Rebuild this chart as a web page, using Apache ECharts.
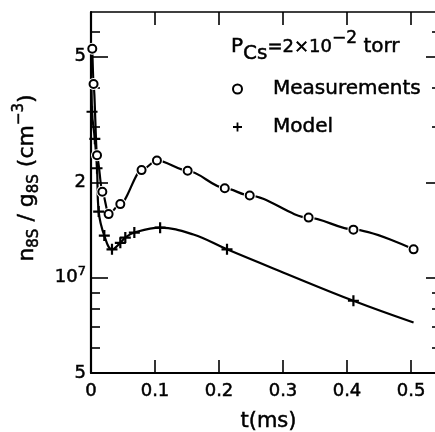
<!DOCTYPE html>
<html>
<head>
<meta charset="utf-8">
<script src="https://cdn.jsdelivr.net/npm/echarts@6/dist/echarts.min.js"></script>
<style>
  html, body { margin: 0; padding: 0; background: #fff; }
  #chart { width: 435px; height: 432px; }
</style>
</head>
<body>
<div id="chart"></div>
<script>
// Decay of the Cs 8S population after the pulse: time t (ms) and n8S/g8S (cm^-3)
const measTime    = [0.002, 0.004, 0.0094, 0.0177, 0.0275, 0.0458, 0.079, 0.103, 0.151, 0.209, 0.248, 0.340, 0.410, 0.504];
const measDensity = [5.3e7, 4.1e7, 2.44e7, 1.87e7, 1.59e7, 1.71e7, 2.19e7, 2.35e7, 2.18e7, 1.92e7, 1.82e7, 1.55e7, 1.42e7, 1.23e7];

// Model curve (full trace) and the points marked with "+"
const modelCurveTime    = [0.0006, 0.0016, 0.0060, 0.0094, 0.0120, 0.0208, 0.0328, 0.0458, 0.0536, 0.0677, 0.108, 0.160, 0.2125, 0.300, 0.410, 0.504];
const modelCurveDensity = [4.6e7, 3.35e7, 2.75e7, 2.22e7, 1.62e7, 1.36e7, 1.23e7, 1.29e7, 1.34e7, 1.39e7, 1.44e7, 1.37e7, 1.23e7, 1.04e7, 8.46e6, 7.22e6];
const modelMarkTime     = [0.0016, 0.0060, 0.0094, 0.0120, 0.0208, 0.0328, 0.0458, 0.0536, 0.0677, 0.108, 0.2125, 0.410];
const modelMarkDensity  = [3.35e7, 2.75e7, 2.22e7, 1.62e7, 1.36e7, 1.23e7, 1.29e7, 1.34e7, 1.39e7, 1.44e7, 1.23e7, 8.46e6];

// Axis ticks and labels
const xTickValues   = [0.1, 0.2, 0.3, 0.4, 0.5];
const xLabelValues  = [0, 0.1, 0.2, 0.3, 0.4, 0.5];
const yMajorTicks   = [1e7, 2e7, 5e7];
const yMinorTicks   = [6e6, 7e6, 8e6, 9e6, 3e7, 4e7, 6e7];
const yLabelValues  = [5e6, 1e7, 2e7, 5e7];
const yLabelTexts   = ['5', '{b|10}{s|7}', '2', '5'];

const X_MIN = 0, X_MAX = 0.5406;
const Y_MIN = 5e6, Y_MAX = 6.925e7;

const FONT = 'DejaVu Sans';
const INK = '#000';
const HEAVY = 0.5;   // extra stroke to give the lettering some weight
const PLUS = 'path://M4,0h2v4h4v2h-4v4h-2v-4h-4v-2h4z';

const zip = (a, b) => a.map((v, i) => [v, b[i]]);

function yLabel(v) {
  const i = yLabelValues.findIndex(t => Math.abs(Math.log10(t) - Math.log10(v)) < 1e-6);
  return i >= 0 ? yLabelTexts[i] : '';
}

function yAxisDef(position, ticks, len, showLine, showLabel) {
  return {
    type: 'log', logBase: 10, min: Y_MIN, max: Y_MAX, position: position,
    axisLine: { show: showLine, lineStyle: { color: INK, width: 2.2 } },
    axisTick: { show: true, inside: true, length: len, customValues: ticks, lineStyle: { color: INK, width: 1.6 } },
    axisLabel: showLabel ? {
      customValues: yLabelValues, formatter: yLabel, margin: 5,
      color: INK, fontFamily: FONT, fontSize: 18, textBorderColor: INK, textBorderWidth: HEAVY,
      rich: {
        b: { fontFamily: FONT, fontSize: 18, lineHeight: 26, color: INK, textBorderColor: INK, textBorderWidth: HEAVY },
        s: { fontFamily: FONT, fontSize: 13, lineHeight: 13, verticalAlign: 'top', color: INK, textBorderColor: INK, textBorderWidth: HEAVY }
      }
    } : { show: false },
    splitLine: { show: false }, minorTick: { show: false }
  };
}

const chart = echarts.init(document.getElementById('chart'), null, { renderer: 'canvas' });

chart.setOption({
  animation: false,
  backgroundColor: '#fff',
  grid: { left: 91, right: -2, top: 12, bottom: 59, containLabel: false, outerBoundsMode: 'none' },
  xAxis: [
    {
      type: 'value', min: X_MIN, max: X_MAX, position: 'bottom',
      name: 't(ms)', nameLocation: 'middle', nameGap: 38,
      nameTextStyle: { fontFamily: FONT, fontSize: 21, color: INK, padding: [0, 0, 0, 9], textBorderColor: INK, textBorderWidth: HEAVY },
      axisLine: { lineStyle: { color: INK, width: 2 } },
      axisTick: { inside: true, length: 13, customValues: xTickValues, lineStyle: { color: INK, width: 1.6 } },
      axisLabel: {
        customValues: xLabelValues, margin: 9, color: INK, fontFamily: FONT, fontSize: 18,
        textBorderColor: INK, textBorderWidth: HEAVY,
        formatter: v => (v === 0 ? '0' : v.toFixed(1))
      },
      splitLine: { show: false }
    },
    {
      type: 'value', min: X_MIN, max: X_MAX, position: 'top',
      axisLine: { lineStyle: { color: INK, width: 1.6 } },
      axisTick: { inside: true, length: 13, customValues: xTickValues, lineStyle: { color: INK, width: 1.6 } },
      axisLabel: { show: false },
      splitLine: { show: false }
    }
  ],
  yAxis: [
    yAxisDef('left', yMajorTicks, 17, true, true),
    yAxisDef('left', yMinorTicks, 9, false, false),
    yAxisDef('right', yMajorTicks, 11, true, false),
    yAxisDef('right', yMinorTicks, 5, false, false)
  ],
  legend: {
    orient: 'vertical', left: 232, top: 78, padding: 0,
    itemWidth: 9, itemHeight: 9, itemGap: 16,
    selectedMode: false,
    textStyle: {
      fontFamily: FONT, fontSize: 20, lineHeight: 22, color: INK,
      textBorderColor: INK, textBorderWidth: HEAVY, padding: [0, 0, 0, 26]
    },
    data: [
      { name: 'Measurements', icon: 'circle', itemStyle: { color: '#fff', borderColor: INK, borderWidth: 2, opacity: 1 } },
      { name: 'Model', icon: PLUS, itemStyle: { color: INK, borderWidth: 0, opacity: 1 } }
    ]
  },
  graphic: [
    {
      type: 'text', x: 231, y: 30, silent: true,
      style: {
        text: '{p|P}{sub|Cs}{m|=2×10}{sup|−2}{t| torr}',
        fill: INK, stroke: INK, lineWidth: HEAVY, align: 'left', verticalAlign: 'top',
        rich: {
          p:   { fontFamily: FONT, fontSize: 20, lineHeight: 34, fill: INK },
          sub: { fontFamily: FONT, fontSize: 20, lineHeight: 13, verticalAlign: 'bottom', fill: INK },
          m:   { fontFamily: FONT, fontSize: 18, lineHeight: 34, fill: INK },
          sup: { fontFamily: FONT, fontSize: 17, lineHeight: 24, verticalAlign: 'top', fill: INK },
          t:   { fontFamily: FONT, fontSize: 20, lineHeight: 34, fill: INK }
        }
      }
    },
    {
      type: 'text', x: 27, y: 178, rotation: Math.PI / 2, silent: true,
      style: {
        text: '{b|n}{sub|8S}{b| / g}{sub|8S}{b| (cm}{sup|−3}{b|)}',
        fill: INK, stroke: INK, lineWidth: HEAVY, align: 'center', verticalAlign: 'middle',
        rich: {
          b:   { fontFamily: FONT, fontSize: 22, lineHeight: 30, fill: INK },
          sub: { fontFamily: FONT, fontSize: 15, lineHeight: 15, verticalAlign: 'bottom', fill: INK },
          sup: { fontFamily: FONT, fontSize: 15, lineHeight: 15, verticalAlign: 'top', fill: INK }
        }
      }
    }
  ],
  series: [
    {
      name: 'Measurements', type: 'line', xAxisIndex: 0, yAxisIndex: 0,
      data: zip(measTime, measDensity),
      smooth: 0.3, smoothMonotone: 'x', symbol: 'none', z: 2,
      lineStyle: { color: INK, width: 2.2 }
    },
    {
      name: 'Model', type: 'line', xAxisIndex: 0, yAxisIndex: 0,
      data: zip(modelCurveTime, modelCurveDensity),
      smooth: 0.4, symbol: 'none', z: 2,
      lineStyle: { color: INK, width: 2.2 }
    },
    {
      // white halo that opens a small gap in the line around each circle
      type: 'scatter', xAxisIndex: 0, yAxisIndex: 0, silent: true,
      data: zip(measTime, measDensity),
      symbol: 'circle', symbolSize: 12, z: 3,
      itemStyle: { color: '#fff', opacity: 1 }
    },
    {
      name: 'Measurements', type: 'scatter', xAxisIndex: 0, yAxisIndex: 0,
      data: zip(measTime, measDensity),
      symbol: 'circle', symbolSize: 8, z: 4,
      itemStyle: { color: '#fff', borderColor: INK, borderWidth: 2, opacity: 1 }
    },
    {
      name: 'Model', type: 'scatter', xAxisIndex: 0, yAxisIndex: 0,
      data: zip(modelMarkTime, modelMarkDensity),
      symbol: PLUS, symbolSize: 11, z: 4,
      itemStyle: { color: INK, opacity: 1 }
    }
  ]
});
</script>
</body>
</html>
